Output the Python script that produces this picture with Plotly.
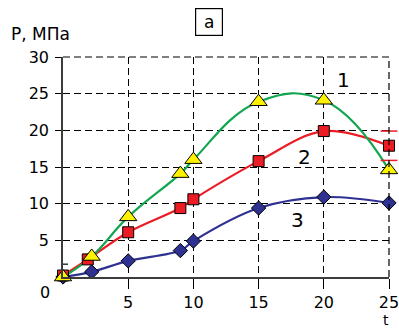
import plotly.graph_objects as go

# Pressure P (MPa) versus time t for three series
t1 = [0, 2.2, 5, 9, 10, 15, 20, 25]
p1 = [0, 2.8, 8.2, 14.1, 16.0, 23.9, 24.1, 14.6]

t2 = [0, 1.9, 5, 9, 10, 15, 20, 25]
p2 = [0.2, 2.4, 6.1, 9.4, 10.6, 15.8, 19.9, 17.9]
p2_err = [0, 0, 0, 0, 0, 0, 0, 2.0]

t3 = [0, 2.2, 5, 9, 10, 15, 20, 25]
p3 = [0, 0.7, 2.2, 3.6, 4.9, 9.4, 10.9, 10.1]

x_ticks = [5, 10, 15, 20, 25]
y_ticks = [5, 10, 15, 20, 25, 30]

GREEN = "#12a650"
RED = "#ec1c24"
BLUE = "#2e3192"
YELLOW = "#fff200"
FONT = "DejaVu Sans"

fig = go.Figure()

# Smoothed curves
for xs, ys, col, sm in [(t3, p3, BLUE, 1.0), (t2, p2, RED, 1.0), (t1, p1, GREEN, 1.25)]:
    fig.add_trace(go.Scatter(
        x=xs, y=ys, mode="lines",
        line=dict(color=col, width=2.2, shape="spline", smoothing=sm),
        hoverinfo="skip", cliponaxis=False,
    ))

# Error-bar caps for series 2
cap_x = [x for x, e in zip(t2, p2_err) if e > 0]
cap_hi = [y + e for y, e in zip(p2, p2_err) if e > 0]
cap_lo = [y - e for y, e in zip(p2, p2_err) if e > 0]
fig.add_trace(go.Scatter(
    x=cap_x + cap_x, y=cap_hi + cap_lo, mode="markers",
    marker=dict(symbol="line-ew", size=12, line=dict(color=RED, width=1.5)),
    cliponaxis=False, hoverinfo="skip",
))

# Markers
fig.add_trace(go.Scatter(
    x=t3, y=p3, mode="markers", cliponaxis=False,
    marker=dict(symbol="diamond", size=11, color=BLUE, line=dict(color="black", width=1)),
))
fig.add_trace(go.Scatter(
    x=t2, y=p2, mode="markers", cliponaxis=False,
    marker=dict(symbol="square", size=11, color=RED, line=dict(color="black", width=1)),
))
fig.add_trace(go.Scatter(
    x=t1, y=p1, mode="markers", cliponaxis=False,
    marker=dict(symbol="triangle-up", size=15, color=YELLOW, line=dict(color="black", width=1)),
))

DASH = "7px,4px"
grid = dict(showgrid=True, gridcolor="black", gridwidth=1.2, griddash=DASH,
            zeroline=False, showline=True, linecolor="#3c3c3c", linewidth=1.6,
            ticks="outside", tickcolor="black", tickwidth=1.2,
            ticklabeloverflow="allow", automargin=False,
            tickfont=dict(family=FONT, size=16, color="black"))

fig.update_xaxes(range=[0, 25], tickvals=x_ticks, ticktext=[str(v) for v in x_ticks],
                 ticklen=10, **grid)
fig.update_yaxes(range=[0, 30], tickvals=y_ticks, ticktext=[str(v) for v in y_ticks],
                 ticklen=6, ticklabelstandoff=3, **grid)

# Dashed grid lines along the top and right edges of the plot area
fig.add_shape(type="line", xref="paper", yref="paper", x0=0, x1=1, y0=1, y1=1,
              line=dict(color="black", width=1.2, dash=DASH))
fig.add_shape(type="line", xref="paper", yref="paper", x0=1, x1=1, y0=0, y1=1,
              line=dict(color="black", width=1.2, dash=DASH))

ann_font = dict(family=FONT, color="black")
annotations = [
    dict(text="P, МПа", x=9, y=34, xanchor="left", font=dict(size=17, **ann_font)),
    dict(text="а", x=208.5, y=21.5, font=dict(size=17, **ann_font),
         bordercolor="black", borderwidth=1.2, width=24, height=24),
    dict(text="1", x=343.5, y=79.5, font=dict(size=20, **ann_font)),
    dict(text="2", x=304, y=156.5, font=dict(size=20, **ann_font)),
    dict(text="3", x=297.5, y=219.5, font=dict(size=20, **ann_font)),
    dict(text="0", x=45, y=292, font=dict(size=16, **ann_font)),
    dict(text="t", x=385.5, y=320, font=dict(size=14, **ann_font)),
]
L, R, T, B = 63, 389, 57, 277
for a in annotations:
    px, py = a.pop("x"), a.pop("y")
    a.setdefault("xanchor", "center")
    fig.add_annotation(x=(px - L) / (R - L), y=(B - py) / (B - T), xref="paper", yref="paper",
                       yanchor="middle", showarrow=False, **a)

# Small extra tick marks near the origin
fig.add_shape(type="line", xref="x", yref="y", xsizemode="pixel", xanchor=0,
              x0=-6, x1=5, y0=1.75, y1=1.75, line=dict(color="black", width=1.2))
fig.add_shape(type="line", xref="x", yref="y", ysizemode="pixel", yanchor=0,
              x0=2.2, x1=2.2, y0=0, y1=-8, line=dict(color="black", width=1.2))

fig.update_layout(
    width=399, height=329,
    margin=dict(l=L, r=399 - R, t=T, b=329 - B),
    paper_bgcolor="white", plot_bgcolor="white",
    showlegend=False,
)

fig.write_html("out.html")
